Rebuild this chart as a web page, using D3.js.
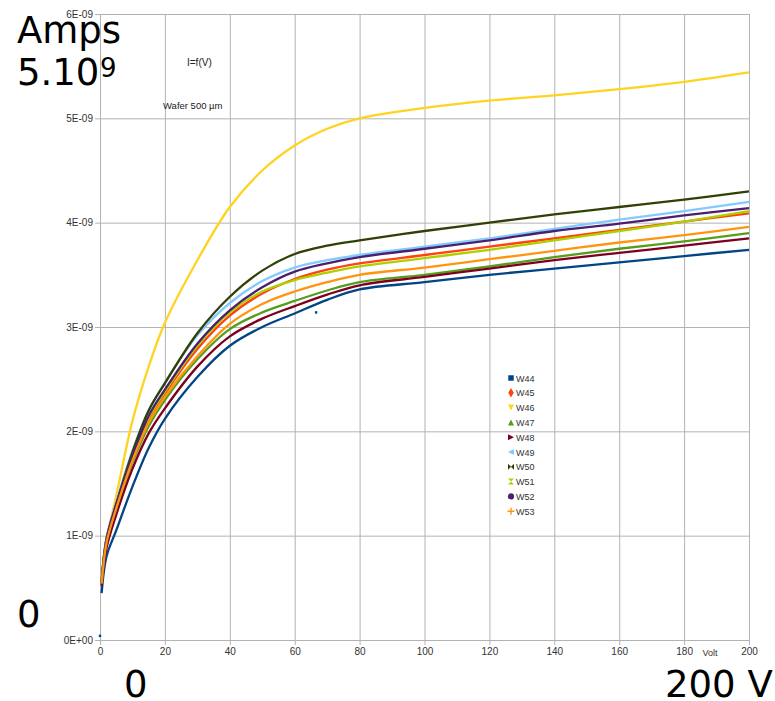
<!DOCTYPE html>
<html>
<head>
<meta charset="utf-8">
<script src="https://cdn.jsdelivr.net/npm/d3@7"></script>
<style>
  body { margin: 0; background: #fff; }
  svg { display: block; }
</style>
</head>
<body>
<div id="chart"></div>
<script>
// voltage steps (V)
var volts = [0.5, 2, 5, 10, 15, 20, 30, 40, 50, 60, 70, 80, 100, 120, 140, 160, 180, 200];

// currents in units of 1E-09 A
var w44 = [0.45, 0.80, 1.05, 1.47, 1.84, 2.12, 2.52, 2.82, 3.00, 3.13, 3.26, 3.36, 3.43, 3.50, 3.56, 3.62, 3.68, 3.74];
var w45 = [0.55, 0.95, 1.28, 1.73, 2.10, 2.36, 2.79, 3.11, 3.32, 3.46, 3.55, 3.61, 3.69, 3.77, 3.85, 3.93, 4.01, 4.09];
var w46 = [0.55, 0.96, 1.38, 2.10, 2.62, 3.04, 3.64, 4.15, 4.50, 4.74, 4.90, 5.00, 5.10, 5.17, 5.22, 5.28, 5.35, 5.44];
var w47 = [0.55, 0.93, 1.25, 1.70, 2.05, 2.30, 2.69, 2.98, 3.14, 3.25, 3.35, 3.43, 3.50, 3.58, 3.67, 3.75, 3.82, 3.90];
var w48 = [0.52, 0.88, 1.20, 1.64, 1.98, 2.22, 2.62, 2.91, 3.08, 3.20, 3.31, 3.40, 3.48, 3.56, 3.64, 3.71, 3.78, 3.85];
var w49 = [0.58, 0.98, 1.32, 1.81, 2.20, 2.47, 2.92, 3.23, 3.44, 3.57, 3.64, 3.69, 3.77, 3.85, 3.94, 4.03, 4.11, 4.20];
var w50 = [0.56, 0.97, 1.30, 1.80, 2.20, 2.46, 2.94, 3.29, 3.54, 3.70, 3.78, 3.83, 3.92, 4.00, 4.08, 4.15, 4.22, 4.30];
var w51 = [0.56, 0.96, 1.29, 1.75, 2.13, 2.38, 2.82, 3.14, 3.34, 3.45, 3.52, 3.58, 3.66, 3.74, 3.83, 3.92, 4.01, 4.11];
var w52 = [0.55, 0.96, 1.30, 1.76, 2.15, 2.40, 2.84, 3.16, 3.38, 3.53, 3.61, 3.67, 3.75, 3.83, 3.92, 3.99, 4.07, 4.14];
var w53 = [0.54, 0.93, 1.26, 1.72, 2.08, 2.33, 2.72, 3.03, 3.22, 3.34, 3.43, 3.50, 3.57, 3.65, 3.73, 3.81, 3.88, 3.96];

// lone W44 points away from the curve
var strayV = [0, 66.6];
var strayI = [0.04, 3.14];

var seriesNames = ["W44", "W45", "W46", "W47", "W48", "W49", "W50", "W51", "W52", "W53"];
var seriesValues = [w44, w45, w46, w47, w48, w49, w50, w51, w52, w53];
var seriesColors = ["#004586", "#ff420e", "#ffd320", "#579d1c", "#7e0021",
                    "#83caff", "#314004", "#aecf00", "#4b1f6f", "#ff950e"];

var xTicks = [0, 20, 40, 60, 80, 100, 120, 140, 160, 180, 200];
var yTicks = [0, 1, 2, 3, 4, 5, 6];

var width = 775, height = 701;
var plot = { left: 100, right: 749, top: 14, bottom: 640 };

var svg = d3.select("#chart")
    .append("svg")
    .attr("width", width)
    .attr("height", height);

var x = d3.scaleLinear().domain([0, 200]).range([plot.left, plot.right]);
var y = d3.scaleLinear().domain([0, 6]).range([plot.bottom, plot.top]);

var gridColor = "#b3b3b3";
var labelFont = "'Liberation Sans Narrow', 'Liberation Sans', sans-serif";

// y axis + horizontal grid
var yAxis = svg.append("g")
    .attr("transform", "translate(" + plot.left + ",0)")
    .call(d3.axisLeft(y)
        .tickValues(yTicks)
        .tickSizeInner(-(plot.right - plot.left))
        .tickSizeOuter(0)
        .tickPadding(7)
        .tickFormat(function (d) { return d === 0 ? "0E+00" : d + "E-09"; }));
yAxis.select(".domain").attr("stroke", gridColor);
yAxis.selectAll(".tick line").attr("stroke", gridColor).attr("x1", -5);
yAxis.selectAll(".tick text")
    .attr("fill", "#333")
    .style("font-family", labelFont)
    .style("font-size", "10px");

// x axis + vertical grid
var xAxis = svg.append("g")
    .attr("transform", "translate(0," + plot.bottom + ")")
    .call(d3.axisBottom(x)
        .tickValues(xTicks)
        .tickSizeInner(-(plot.bottom - plot.top))
        .tickSizeOuter(0)
        .tickPadding(8)
        .tickFormat(d3.format("d")));
xAxis.select(".domain").attr("stroke", gridColor);
xAxis.selectAll(".tick line").attr("stroke", gridColor).attr("y1", 5);
xAxis.selectAll(".tick text")
    .attr("fill", "#333")
    .style("font-family", labelFont)
    .style("font-size", "10px");

svg.append("text")
    .attr("x", 710).attr("y", 656)
    .attr("text-anchor", "middle")
    .attr("fill", "#333")
    .style("font-family", labelFont)
    .style("font-size", "9px")
    .text("Volt");

// curves
var line = d3.line()
    .x(function (d) { return x(d[0]); })
    .y(function (d) { return y(d[1]); })
    .curve(d3.curveCatmullRom.alpha(0.5));

seriesValues.forEach(function (vals, i) {
    var pts = volts.map(function (v, j) { return [v, vals[j]]; });
    svg.append("path")
        .datum(pts)
        .attr("fill", "none")
        .attr("stroke", seriesColors[i])
        .attr("stroke-width", 2.3)
        .attr("d", line);
});

strayV.forEach(function (v, j) {
    svg.append("rect")
        .attr("x", x(v) - 1.2).attr("y", y(strayI[j]) - 1.2)
        .attr("width", 2.4).attr("height", 2.4)
        .attr("fill", seriesColors[0]);
});

// chart texts
svg.append("text")
    .attr("x", 187).attr("y", 66)
    .attr("fill", "#222")
    .style("font-family", "'Liberation Sans', sans-serif")
    .style("font-size", "10px")
    .text("I=f(V)");
svg.append("text")
    .attr("x", 163).attr("y", 109)
    .attr("fill", "#222")
    .style("font-family", "'Liberation Sans', sans-serif")
    .style("font-size", "9.5px")
    .text("Wafer 500 µm");

// legend
function markerPath(k) {
    var s = 3;
    switch (k) {
        case 0: return d3.symbol(d3.symbolSquare, 30)();
        case 1: return d3.symbol(d3.symbolDiamond, 26)();
        case 2: return "M" + (-s) + "," + (-s) + "L" + s + "," + (-s) + "L0," + s + "Z";
        case 3: return "M" + (-s) + "," + s + "L" + s + "," + s + "L0," + (-s) + "Z";
        case 4: return "M" + (-s) + "," + (-s) + "L" + s + ",0L" + (-s) + "," + s + "Z";
        case 5: return "M" + s + "," + (-s) + "L" + (-s) + ",0L" + s + "," + s + "Z";
        case 6: return "M" + (-s) + "," + (-s) + "L" + s + "," + s + "L" + s + "," + (-s) + "L" + (-s) + "," + s + "Z";
        case 7: return "M" + (-s) + "," + (-s) + "L" + s + "," + (-s) + "L" + (-s) + "," + s + "L" + s + "," + s + "Z";
        case 8: return d3.symbol(d3.symbolCircle, 30)();
        default: return "M-0.7,-3.5H0.7V-0.7H3.5V0.7H0.7V3.5H-0.7V0.7H-3.5V-0.7H-0.7Z";
    }
}

var legend = svg.append("g").attr("transform", "translate(511,378)");
seriesNames.forEach(function (name, i) {
    var row = legend.append("g").attr("transform", "translate(0," + (i * 14.8) + ")");
    row.append("path")
        .attr("d", markerPath(i))
        .attr("fill", seriesColors[i]);
    row.append("text")
        .attr("x", 5).attr("y", 3.5)
        .attr("fill", "#333")
        .style("font-family", "'Liberation Sans', sans-serif")
        .style("font-size", "9px")
        .text(name);
});

// big overlay labels
var bigFont = "'DejaVu Sans', sans-serif";
function big(tx, ty, size, str) {
    return svg.append("text")
        .attr("x", tx).attr("y", ty)
        .attr("fill", "#000")
        .style("font-family", bigFont)
        .style("font-size", size + "px")
        .text(str);
}
big(17, 43, 37, "Amps");
big(17, 85, 37, "5.10");
big(100, 77, 26, "9");
big(17, 627, 37, "0");
big(124, 697, 37, "0");
big(665, 697, 37, "200 V");
</script>
</body>
</html>
